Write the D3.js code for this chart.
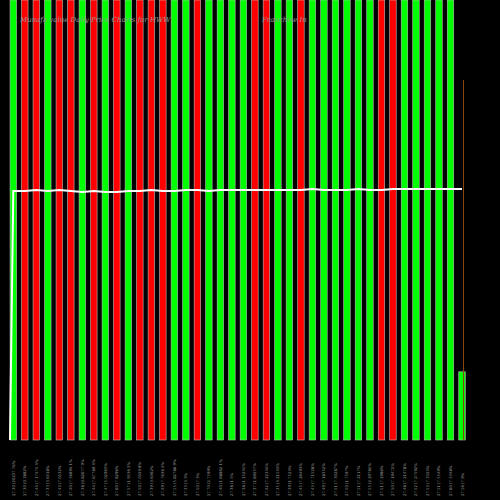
<!DOCTYPE html>
<html>
<head>
<script src="https://d3js.org/d3.v7.min.js"></script>
<style>body{margin:0;background:#000}</style>
</head>
<body>
<div id="chart"></div>
<script>
var colors = "GRRGRRGRGRGRRRGGRGGGGRRGGRGGGGGGRRGGGGGG".split("")
var heights = [1,1,1,1,1,1,1,1,1,1,1,1,1,1,1,1,1,1,1,1,1,1,1,1,1,1,1,1,1,1,1,1,1,1,1,1,1,1,1,0.155]
var line = [191,191,190,191,190,191,192,191,192,192,191,191,190,191,191,190,190,191,190,190,190,190,190,190,190,190,189,190,190,190,189,190,190,189,189,189,189,189,189,189]
var labels = ["27.30 (20237.76%","27.30 (0.3882%","27.44 (7.17474.4%","27.33 (3.6318%","27.43 (7.0532%","27.40 (7.56894.1%","27.38 (0.82677.9%","27.44 (7.67789.4%","27.47 (5.02963%","27.60 (7.8296%","27.57 (1.9536.3%","27.50 (7.0329.8%","27.39 (3.6362%","27.49 (7.7636.4%","27.55 (5.82786.9%","27.33 (4.3%","27.50 (7.3%","27.70 (2.7599%","27.40 (1.68862.1%","27.38 (1.5%","27.38 (1.15245%","27.37 (1.89257%","27.42 (7.22344%","27.35 (4.21543%","27.39 (1.7524%","27.45 (7.26493%","27.43 (7.71528%","27.49 (7.18352%","27.51 (7.30287%","27.50 (1.7597%","27.51 (7.2117%","27.55 (2.29781%","27.51 (7.2986%","27.50 (7.19472%","27.48 (7.21478%","27.52 (7.27592%","27.53 (7.3324%","27.51 (7.5549%","27.60 (7.5348%","27.56 (7.9%"]
var W=500,H=500,base=440,bw=6.5
var svg=d3.select("#chart").append("svg").attr("width",W).attr("height",H).style("background","#000")
var x=d3.scalePoint().domain(d3.range(colors.length)).range([13.3,462])
var y=d3.scaleLinear().domain([0,1]).range([base,0])
svg.selectAll("rect.bar").data(heights).enter().append("rect")
  .attr("x",(d,i)=>x(i)-bw/2).attr("width",bw)
  .attr("y",d=>y(d)).attr("height",d=>base-y(d))
  .attr("fill",(d,i)=>colors[i]=="G"?"#00ff00":"#ff0000")
  .attr("stroke","#bbb").attr("stroke-width",0.6)
svg.append("line").attr("x1",463.5).attr("x2",463.5).attr("y1",80).attr("y2",base).attr("stroke","#8b4513").attr("stroke-width",1)
var pts=[[10,440]].concat(line.map((d,i)=>[x(i),d]))
svg.append("path").datum(pts).attr("fill","none").attr("stroke","#fff").attr("stroke-width",2)
  .attr("d",d3.line())
svg.append("text").attr("x",20).attr("y",22).attr("fill","#999").attr("font-size",7).attr("font-style","italic").attr("font-family","DejaVu Serif")
  .text("Munafa value Daily Price Charts for HWW")
svg.append("text").attr("x",262).attr("y",22).attr("fill","#999").attr("font-size",7).attr("font-style","italic").attr("font-family","DejaVu Serif")
  .text("Franchise In")
svg.selectAll("text.lab").data(labels).enter().append("text")
  .attr("transform",(d,i)=>"translate("+(x(i)+1.5)+",496) rotate(-90)")
  .attr("fill","#999").attr("font-size",3.8).attr("font-family","DejaVu Sans").text(d=>d)
</script>
</body>
</html>
